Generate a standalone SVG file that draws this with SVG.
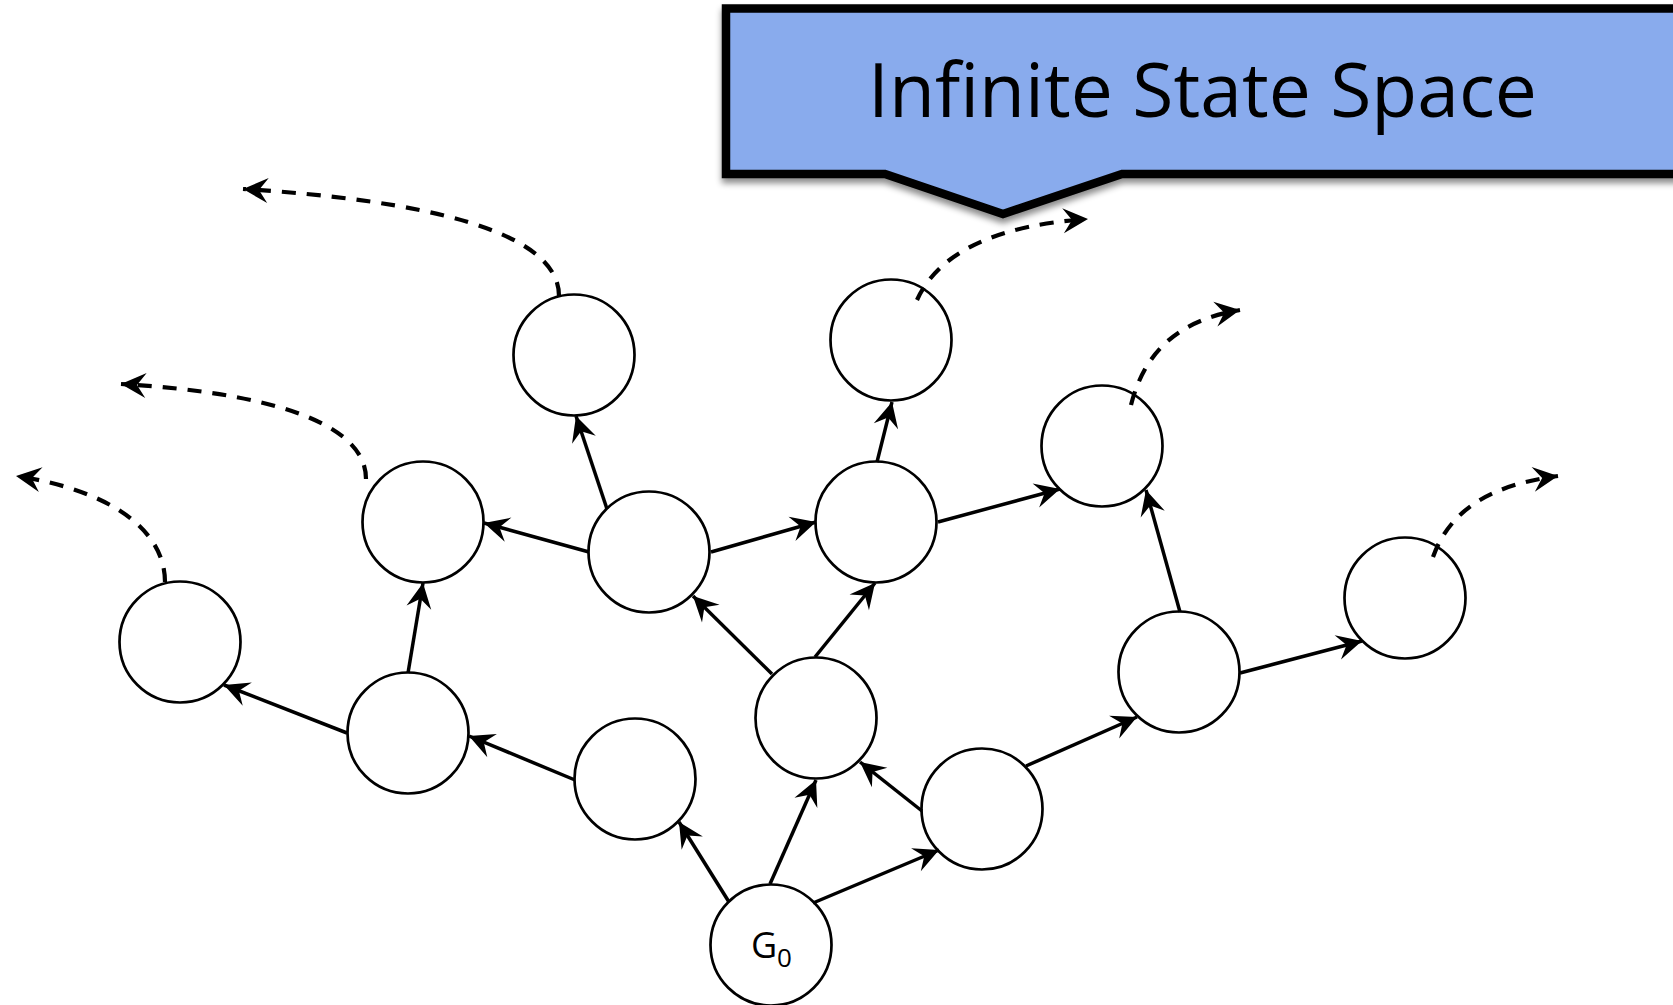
<svg xmlns="http://www.w3.org/2000/svg" width="1673" height="1005" viewBox="0 0 1673 1005">
<style>
.node{fill:#fff;stroke:#000;stroke-width:2.7}
.edge{fill:none;stroke:#000;stroke-width:3.5;marker-end:url(#ah)}
.dash{fill:none;stroke:#000;stroke-width:4.2;stroke-dasharray:14 11;marker-end:url(#ah)}
.lbl{font-family:"Open Sans","Noto Sans",sans-serif;fill:#000}
</style>
<defs>
<marker id="ah" markerUnits="userSpaceOnUse" markerWidth="30" markerHeight="30" refX="0" refY="0" orient="auto" overflow="visible">
<path d="M0,0 L-25,-12.5 L-16,0 L-25,12.5 Z" fill="#000"/>
</marker>
<filter id="sh" x="-5%" y="-10%" width="110%" height="130%">
<feDropShadow dx="0" dy="5" stdDeviation="3" flood-color="#000" flood-opacity="0.45"/>
</filter>
</defs>
<g id="callout">
<path d="M726,8.5 L1700,8.5 L1700,174 L1122,174 L1003,214 L885,174 L726,174 Z" fill="#89abed" stroke="#000" stroke-width="8.5" stroke-linejoin="miter" filter="url(#sh)"/>
<text class="lbl" x="868" y="117" font-size="75">Infinite State Space</text>
</g>
<g id="n-g0"><circle class="node" cx="771" cy="945" r="60.5"/>
<text class="lbl" x="751" y="958" font-size="36">G</text><text class="lbl" x="777" y="967" font-size="26">0</text></g>
<g id="n2"><circle class="node" cx="635" cy="779" r="60.5"/></g>
<g id="n3"><circle class="node" cx="816" cy="718" r="60.5"/></g>
<g id="n4"><circle class="node" cx="982" cy="809" r="60.5"/></g>
<g id="n5"><circle class="node" cx="1179" cy="672" r="60.5"/></g>
<g id="n6"><circle class="node" cx="1405" cy="598" r="60.5"/></g>
<g id="n7"><circle class="node" cx="1102" cy="446" r="60.5"/></g>
<g id="n8"><circle class="node" cx="876" cy="522" r="60.5"/></g>
<g id="n9"><circle class="node" cx="891" cy="340" r="60.5"/></g>
<g id="n10"><circle class="node" cx="649" cy="552" r="60.5"/></g>
<g id="n11"><circle class="node" cx="574" cy="355" r="60.5"/></g>
<g id="n12"><circle class="node" cx="423" cy="522" r="60.5"/></g>
<g id="n13"><circle class="node" cx="408" cy="733" r="60.5"/></g>
<g id="n14"><circle class="node" cx="180" cy="642" r="60.5"/></g>
<g id="connectors">
<line class="edge" x1="729" y1="902" x2="679" y2="822"/>
<line class="edge" x1="770" y1="884" x2="816" y2="780"/>
<line class="edge" x1="813" y1="903" x2="939" y2="850"/>
<line class="edge" x1="922" y1="811" x2="860" y2="762"/>
<line class="edge" x1="1026" y1="766" x2="1137" y2="717"/>
<line class="edge" x1="772" y1="674" x2="693" y2="596"/>
<line class="edge" x1="815" y1="657" x2="875" y2="583"/>
<line class="edge" x1="575" y1="780" x2="469" y2="736"/>
<line class="edge" x1="347" y1="733" x2="224" y2="685"/>
<line class="edge" x1="408" y1="673" x2="423" y2="583"/>
<line class="edge" x1="589" y1="552" x2="484" y2="523"/>
<line class="edge" x1="607" y1="509" x2="576" y2="416"/>
<line class="edge" x1="711" y1="552" x2="816" y2="522"/>
<line class="edge" x1="877" y1="462" x2="892" y2="402"/>
<line class="edge" x1="938" y1="522" x2="1060" y2="489"/>
<line class="edge" x1="1180" y1="612" x2="1146" y2="490"/>
<line class="edge" x1="1240" y1="673" x2="1362" y2="641"/>
<path class="dash" d="M165,582 C165,530 110,490 16,476"/>
<path class="dash" d="M366,479 C366,420 260,392 121,384"/>
<path class="dash" d="M559,296 C559,230 420,200 243,189"/>
<path class="dash" d="M917,300 C940,250 1000,225 1088,219"/>
<path class="dash" d="M1131,405 C1145,350 1180,320 1240,310"/>
<path class="dash" d="M1433,557 C1450,510 1490,485 1558,476"/>
</g>
</svg>
